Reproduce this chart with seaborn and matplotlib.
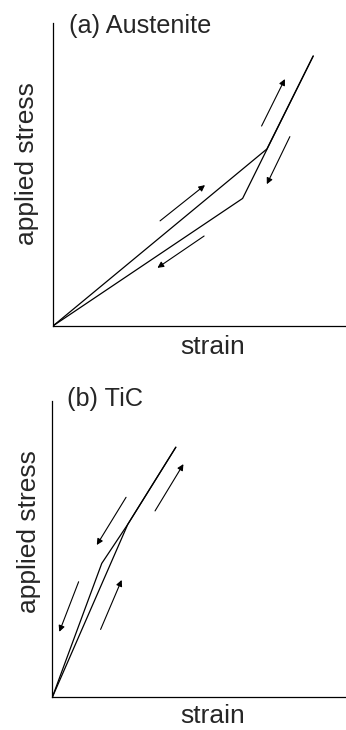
import matplotlib
matplotlib.use("Agg")
import matplotlib.pyplot as plt
import seaborn as sns
import pandas as pd

sns.set_style("white")
plt.rcParams["font.family"] = ["Liberation Sans", "DejaVu Sans"]

# ---- data (normalized strain / stress) ----
# Panel (a) Austenite
a_load_strain = [0.0, 0.732, 0.891]
a_load_stress = [0.0, 0.583, 0.890]
a_unload_strain = [0.891, 0.649, 0.0]
a_unload_stress = [0.890, 0.420, 0.0]
# arrows: (x_start, y_start, x_end, y_end)
a_arrows = [
    (0.366, 0.346, 0.520, 0.464),
    (0.517, 0.296, 0.357, 0.191),
    (0.714, 0.659, 0.794, 0.814),
    (0.811, 0.624, 0.732, 0.467),
]

# Panel (b) TiC
b_load_strain = [0.0, 0.258, 0.422]
b_load_stress = [0.0, 0.584, 0.844]
b_unload_strain = [0.422, 0.258, 0.169, 0.0]
b_unload_stress = [0.844, 0.584, 0.452, 0.0]
b_arrows = [
    (0.351, 0.629, 0.448, 0.787),
    (0.165, 0.229, 0.237, 0.396),
    (0.252, 0.675, 0.152, 0.514),
    (0.090, 0.390, 0.024, 0.221),
]

titles = ["(a) Austenite", "(b) TiC"]
xlabel = "strain"
ylabel = "applied stress"

W, H = 346, 730
fig = plt.figure(figsize=(W / 100, H / 100), dpi=100)

ax_a = fig.add_axes([53.3 / W, 1 - 325.7 / H, 291.7 / W, 303 / H])
ax_b = fig.add_axes([52.3 / W, 1 - 697.3 / H, 292.7 / W, 296.3 / H])

panels = [
    (ax_a, a_load_strain, a_load_stress, a_unload_strain, a_unload_stress, a_arrows,
     titles[0], (0.055, 0.966), (0.547, -0.093), (-0.090, 0.536)),
    (ax_b, b_load_strain, b_load_stress, b_unload_strain, b_unload_stress, b_arrows,
     titles[1], (0.051, 0.983), (0.549, -0.088), (-0.080, 0.559)),
]

for ax, lx, ly, ux, uy, arrows, title, tpos, xlpos, ylpos in panels:
    df = pd.concat([
        pd.DataFrame({"strain": lx, "stress": ly, "path": "load"}),
        pd.DataFrame({"strain": ux, "stress": uy, "path": "unload"}),
    ])
    sns.lineplot(data=df, x="strain", y="stress", units="path", estimator=None,
                 sort=False, color="black", lw=0.9, ax=ax, legend=False)
    for x0, y0, x1, y1 in arrows:
        ax.annotate("", xy=(x1, y1), xytext=(x0, y0),
                    arrowprops=dict(arrowstyle="-|>", color="black", lw=0.8,
                                    mutation_scale=9, shrinkA=0, shrinkB=0))
    ax.set_xlim(0, 1)
    ax.set_ylim(0, 1)
    ax.set_xticks([])
    ax.set_yticks([])
    sns.despine(ax=ax)
    for s in ("left", "bottom"):
        ax.spines[s].set_color("black")
        ax.spines[s].set_linewidth(0.9)
    ax.text(tpos[0], tpos[1], title, transform=ax.transAxes, fontsize=18.2,
            ha="left", va="baseline")
    ax.set_xlabel(xlabel, fontsize=19)
    ax.xaxis.set_label_coords(*xlpos)
    ax.xaxis.label.set_verticalalignment("baseline")
    ax.set_ylabel(ylabel, fontsize=19)
    ax.yaxis.set_label_coords(*ylpos)
    ax.yaxis.label.set_verticalalignment("center")
    ax.yaxis.label.set_horizontalalignment("center")
    ax.patch.set_alpha(0)

fig.savefig("out.png", dpi=100)
